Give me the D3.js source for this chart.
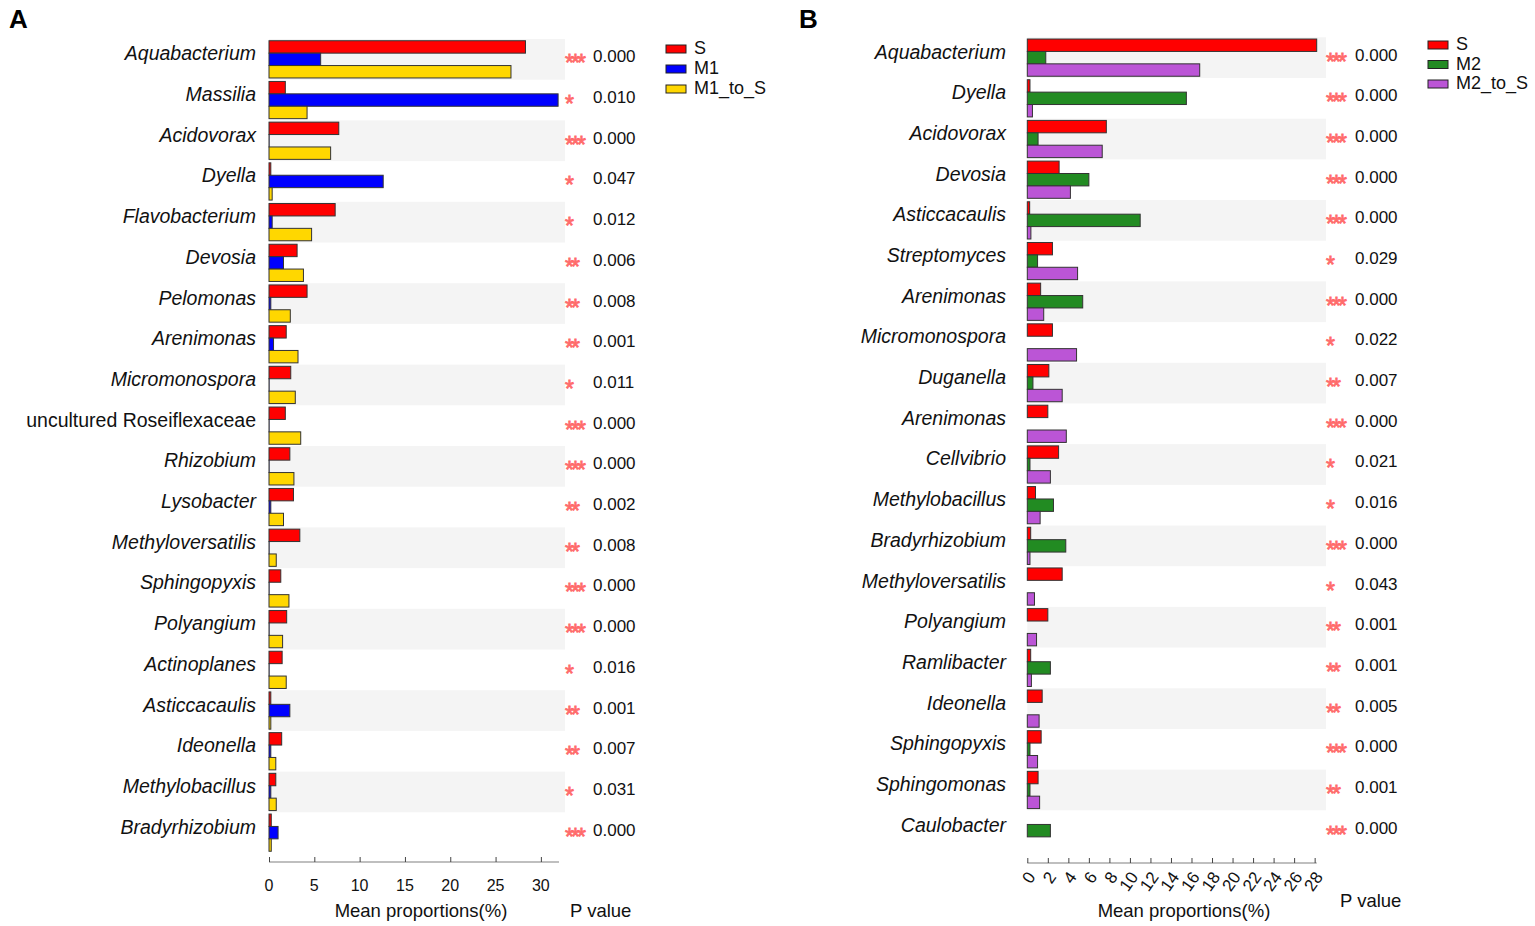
<!DOCTYPE html>
<html>
<head>
<meta charset="utf-8">
<script src="https://cdn.jsdelivr.net/npm/d3@7"></script>
<style>
  body { margin: 0; background: #fff; }
  svg { font-family: "Liberation Sans", Arial, sans-serif; }
</style>
</head>
<body>
<svg id="chart" width="1535" height="926"></svg>
<script>
// ---- panel A data ----
var taxaA = ["Aquabacterium", "Massilia", "Acidovorax", "Dyella", "Flavobacterium", "Devosia",
  "Pelomonas", "Arenimonas", "Micromonospora", "uncultured Roseiflexaceae", "Rhizobium",
  "Lysobacter", "Methyloversatilis", "Sphingopyxis", "Polyangium", "Actinoplanes",
  "Asticcacaulis", "Ideonella", "Methylobacillus", "Bradyrhizobium"];
var sA     = [28.3, 1.8, 7.7, 0.2, 7.3, 3.1, 4.2, 1.9, 2.4, 1.8, 2.3, 2.7, 3.4, 1.3, 1.95, 1.45, 0.2, 1.4, 0.75, 0.25];
var m1A    = [5.7, 31.9, 0.02, 12.6, 0.35, 1.6, 0.2, 0.5, 0.02, 0.02, 0.02, 0.2, 0.02, 0.02, 0.02, 0.02, 2.3, 0.2, 0.2, 1.0];
var m1toSA = [26.7, 4.2, 6.8, 0.35, 4.7, 3.8, 2.35, 3.2, 2.9, 3.5, 2.75, 1.6, 0.8, 2.2, 1.5, 1.9, 0.2, 0.75, 0.8, 0.25];
var starsA = ["***", "*", "***", "*", "*", "**", "**", "**", "*", "***", "***", "**", "**", "***", "***", "*", "**", "**", "*", "***"];
var pA     = ["0.000", "0.010", "0.000", "0.047", "0.012", "0.006", "0.008", "0.001", "0.011", "0.000",
  "0.000", "0.002", "0.008", "0.000", "0.000", "0.016", "0.001", "0.007", "0.031", "0.000"];
var ticksA = [0, 5, 10, 15, 20, 25, 30];

// ---- panel B data ----
var taxaB = ["Aquabacterium", "Dyella", "Acidovorax", "Devosia", "Asticcacaulis", "Streptomyces",
  "Arenimonas", "Micromonospora", "Duganella", "Arenimonas", "Cellvibrio", "Methylobacillus",
  "Bradyrhizobium", "Methyloversatilis", "Polyangium", "Ramlibacter", "Ideonella",
  "Sphingopyxis", "Sphingomonas", "Caulobacter"];
var sB     = [28.2, 0.26, 7.7, 3.1, 0.23, 2.45, 1.3, 2.45, 2.1, 2.0, 3.05, 0.8, 0.33, 3.4, 2.0, 0.33, 1.45, 1.35, 1.05, 0];
var m2B    = [1.8, 15.5, 1.05, 6.0, 11.0, 1.0, 5.4, 0, 0.55, 0, 0.26, 2.55, 3.75, 0, 0, 2.25, 0, 0.26, 0.26, 2.25];
var m2toSB = [16.8, 0.5, 7.3, 4.2, 0.35, 4.9, 1.6, 4.8, 3.4, 3.8, 2.25, 1.25, 0.26, 0.7, 0.9, 0.4, 1.15, 1.0, 1.2, 0];
var starsB = ["***", "***", "***", "***", "***", "*", "***", "*", "**", "***", "*", "*", "***", "*", "**", "**", "**", "***", "**", "***"];
var pB     = ["0.000", "0.000", "0.000", "0.000", "0.000", "0.029", "0.000", "0.022", "0.007", "0.000",
  "0.021", "0.016", "0.000", "0.043", "0.001", "0.001", "0.005", "0.000", "0.001", "0.000"];
var ticksB = d3.range(0, 29, 2);

var svg = d3.select("#chart");

function drawPanel(o) {
  var g = svg.append("g");
  var idx = d3.range(o.taxa.length);

  var x = d3.scaleLinear().domain([0, o.xmax]).range([o.x0, o.x1]);
  var y = d3.scaleBand().domain(idx).range([o.y0, o.y1]).padding(0);
  var inner = d3.scaleBand().domain([0, 1, 2]).range([0, y.bandwidth()]).paddingOuter(0.14).paddingInner(0);

  // shaded rows
  g.selectAll("rect.shade")
    .data(idx.filter(function(i) { return i % 2 == 0; }))
    .enter().append("rect")
      .attr("x", o.x0)
      .attr("y", function(i) { return y(i); })
      .attr("width", o.shadeRight - o.x0)
      .attr("height", y.bandwidth())
      .attr("fill", "#f4f4f4");

  // bars
  o.series.forEach(function(s, k) {
    g.selectAll("rect.bar" + k)
      .data(s.values)
      .enter().append("rect")
        .attr("x", x(0))
        .attr("y", function(d, i) { return y(i) + inner(k); })
        .attr("width", function(d) { return x(d) - x(0); })
        .attr("height", inner.bandwidth())
        .attr("fill", s.color)
        .attr("stroke", "#333")
        .attr("stroke-width", 1);
  });

  // taxa labels
  g.selectAll("text.taxon")
    .data(o.taxa)
    .enter().append("text")
      .attr("x", o.labelX)
      .attr("y", function(d, i) { return y(i) + y.bandwidth() / 2 + 1; })
      .attr("text-anchor", "end")
      .attr("font-size", "19.5px")
      .attr("font-style", function(d) { return d.indexOf("uncultured") == 0 ? "normal" : "italic"; })
      .attr("fill", "#111")
      .text(function(d) { return d; });

  // stars + p values
  g.selectAll("text.star")
    .data(o.stars)
    .enter().append("text")
      .attr("x", o.starX)
      .attr("y", function(d, i) { return y(i) + y.bandwidth() / 2 + 12; })
      .attr("font-size", "23px")
      .attr("fill", "#ff6b6b")
      .attr("stroke", "#ff6b6b")
      .attr("stroke-width", 0.8)
      .attr("letter-spacing", "-3px")
      .text(function(d) { return d; });

  g.selectAll("text.pval")
    .data(o.pvals)
    .enter().append("text")
      .attr("x", o.pX)
      .attr("y", function(d, i) { return y(i) + y.bandwidth() / 2 + 3; })
      .attr("font-size", "17px")
      .attr("fill", "#111")
      .text(function(d) { return d; });

  // x axis
  var ax = g.append("g")
    .attr("transform", "translate(0," + o.axisY + ")")
    .call(d3.axisTop(x).tickValues(o.ticks).tickSize(5).tickFormat(""));
  ax.select(".domain").attr("stroke", "#aaa").attr("stroke-width", 1.5).attr("d", "M" + o.x0 + ",0H" + o.x1);
  ax.selectAll(".tick line").attr("stroke", "#444");

  var tl = g.selectAll("text.tick")
    .data(o.ticks)
    .enter().append("text")
      .attr("fill", "#111")
      .attr("font-size", o.tickFont)
      .text(function(d) { return d; });
  if (o.rotate) {
    tl.attr("text-anchor", "end")
      .attr("transform", function(d) { return "translate(" + (x(d) + 9) + "," + (o.axisY + 14) + ")rotate(-55)"; });
  } else {
    tl.attr("text-anchor", "middle")
      .attr("x", function(d) { return x(d); })
      .attr("y", o.axisY + 29);
  }

  g.append("text")
    .attr("x", o.titleX).attr("y", 917)
    .attr("text-anchor", "middle")
    .attr("font-size", "18.5px")
    .attr("fill", "#111")
    .text("Mean proportions(%)");

  g.append("text")
    .attr("x", o.pTitleX).attr("y", o.pTitleY)
    .attr("font-size", "18.5px")
    .attr("fill", "#111")
    .text("P value");

  // legend
  var lg = g.append("g").attr("transform", "translate(" + o.legX + "," + o.legY + ")");
  o.series.forEach(function(s, k) {
    lg.append("rect")
      .attr("x", 0).attr("y", k * o.legStep - 4)
      .attr("width", 20).attr("height", 8)
      .attr("fill", s.color).attr("stroke", "#222").attr("stroke-width", 1);
    lg.append("text")
      .attr("x", 28).attr("y", k * o.legStep + 5)
      .attr("font-size", "18px")
      .attr("fill", "#111")
      .text(s.name);
  });

  svg.append("text")
    .attr("x", o.letterX).attr("y", 28)
    .attr("font-size", "26px")
    .attr("font-weight", "bold")
    .text(o.letter);
}

drawPanel({
  letter: "A", letterX: 9,
  taxa: taxaA, stars: starsA, pvals: pA, ticks: ticksA,
  series: [
    {name: "S", values: sA, color: "#ff0000"},
    {name: "M1", values: m1A, color: "#0000ff"},
    {name: "M1_to_S", values: m1toSA, color: "#ffd700"}
  ],
  xmax: 32, x0: 269, x1: 559, y0: 39, y1: 853, shadeRight: 565,
  labelX: 256, starX: 565, pX: 593, axisY: 862, tickFont: "16px",
  rotate: false, titleX: 421, pTitleX: 570, pTitleY: 917,
  legX: 666, legY: 49, legStep: 20
});

drawPanel({
  letter: "B", letterX: 799,
  taxa: taxaB, stars: starsB, pvals: pB, ticks: ticksB,
  series: [
    {name: "S", values: sB, color: "#ff0000"},
    {name: "M2", values: m2B, color: "#228b22"},
    {name: "M2_to_S", values: m2toSB, color: "#bb55d6"}
  ],
  xmax: 28.2, x0: 1027.3, x1: 1316.7, y0: 37.3, y1: 851, shadeRight: 1326,
  labelX: 1006, starX: 1326, pX: 1355, axisY: 863, tickFont: "17px",
  rotate: true, titleX: 1184, pTitleX: 1340, pTitleY: 907,
  legX: 1428, legY: 45, legStep: 19.5
});
</script>
</body>
</html>
